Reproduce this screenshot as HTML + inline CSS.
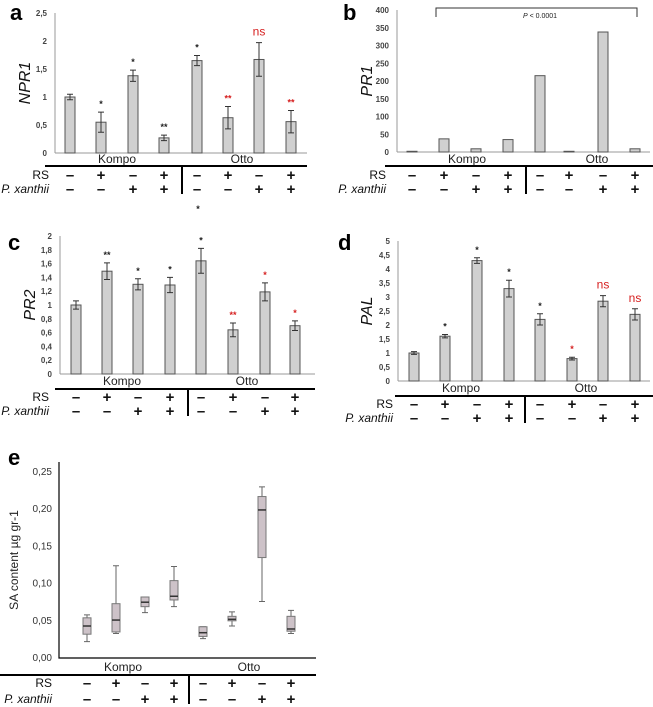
<!DOCTYPE html>
<html><head><meta charset="utf-8"><style>
body{margin:0;background:#fff;}
svg{display:block;font-family:"Liberation Sans",sans-serif;}
.tk{font-size:8px;fill:#444;font-weight:bold;}
.grp{font-size:12px;fill:#222;}
.sym{font-size:15px;fill:#111;font-weight:bold;}
.rl{font-size:12px;fill:#111;}
.pl{font-size:22px;font-weight:bold;fill:#000;}
.yt{font-size:16px;font-style:italic;fill:#111;}
</style></head><body>
<svg id="fig" width="653" height="707" viewBox="0 0 653 707"></svg>
<script>
// Panel a: NPR1
const aCats=["1","2","3","4","5","6","7","8"];
const aVals=[1,0.55,1.38,0.27,1.65,0.63,1.67,0.56];
const aErr=[0.05,0.18,0.1,0.05,0.09,0.2,0.3,0.2];
const aSig=["","*","*","**","*","**","ns","**"];
const aSigRed=[0,0,0,0,0,1,1,1];
const aTicks=["0","0,5","1","1,5","2","2,5"];
// Panel b: PR1
const bVals=[2,37,9,35,215,2,338,9];
const bTicks=["0","50","100","150","200","250","300","350","400"];
// Panel c: PR2
const cVals=[1,1.49,1.3,1.29,1.64,0.64,1.19,0.7];
const cErr=[0.06,0.12,0.08,0.11,0.18,0.1,0.13,0.07];
const cSig=["","**","*","*","*","**","*","*"];
const cSigRed=[0,0,0,0,0,1,1,1];
const cTicks=["0","0,2","0,4","0,6","0,8","1","1,2","1,4","1,6","1,8","2"];
// Panel d: PAL
const dVals=[1,1.6,4.3,3.3,2.2,0.8,2.85,2.38];
const dErr=[0.05,0.06,0.1,0.3,0.2,0.05,0.2,0.2];
const dSig=["","*","*","*","*","*","ns","ns"];
const dSigRed=[0,0,0,0,0,1,1,1];
const dTicks=["0","0,5","1","1,5","2","2,5","3","3,5","4","4,5","5"];
// Panel e: SA boxplots
const eMin=[0.022,0.033,0.061,0.069,0.026,0.043,0.076,0.033];
const eQ1=[0.032,0.035,0.069,0.078,0.029,0.050,0.135,0.036];
const eMed=[0.043,0.051,0.075,0.083,0.034,0.052,0.199,0.039];
const eQ3=[0.054,0.073,0.082,0.104,0.042,0.056,0.217,0.056];
const eMax=[0.058,0.124,0.082,0.123,0.042,0.062,0.230,0.064];
const eTicks=["0,00","0,05","0,10","0,15","0,20","0,25"];
const rsRow=["-","+","-","+","-","+","-","+"];
const pxRow=["-","-","+","+","-","-","+","+"];

const svg=document.getElementById('fig');
const NS="http://www.w3.org/2000/svg";
function mk(tag,attrs,parent,txt){const e=document.createElementNS(NS,tag);for(const k in attrs)e.setAttribute(k,attrs[k]);if(txt!==undefined)e.textContent=txt;(parent||svg).appendChild(e);return e;}

function treat(g,xs,lineY,lineX0,lineX1,rsY,pxY,labX,sepX,grpY,grpX){
  const t1=mk('text',{x:grpX[0],y:grpY,'text-anchor':'middle',class:'grp'},g,'Kompo');
  
  const t2=mk('text',{x:grpX[1],y:grpY,'text-anchor':'middle',class:'grp'},g,'Otto');
  
  const l=mk('line',{x1:lineX0,x2:lineX1,y1:lineY,y2:lineY,stroke:'#000','stroke-width':2},g);
  
  const s=mk('line',{x1:sepX,x2:sepX,y1:lineY,y2:pxY+5,stroke:'#000','stroke-width':2},g);
  
  const r=mk('text',{x:labX,y:rsY+4,'text-anchor':'end',class:'rl'},g,'RS');
  
  const p=mk('text',{x:labX,y:pxY+4,'text-anchor':'end',class:'rl','font-style':'italic'},g,'P. xanthii');
  
  xs.forEach((x,i)=>{
    const a=mk('text',{x:x,y:rsY+5,'text-anchor':'middle',class:'sym'},g,rsRow[i]==='-'?'–':'+');
    
    const b=mk('text',{x:x,y:pxY+5,'text-anchor':'middle',class:'sym'},g,pxRow[i]==='-'?'–':'+');
    
  });
}

function barPanel(o){
  const g=mk('g',{});
  
  const yScale=v=>o.y0-(v/o.max)*(o.y0-o.yTop);
  const pl=mk('text',{x:o.lx,y:o.ly,class:'pl'},g,o.letter);
  
  const ax=mk('line',{x1:o.ax,x2:o.ax,y1:o.yTop,y2:o.y0,stroke:'#999'},g);
  
  const xa=mk('line',{x1:o.ax,x2:o.axEnd,y1:o.y0,y2:o.y0,stroke:'#999'},g);
  
  o.ticks.forEach((t,i)=>{
    const v=i*o.max/(o.ticks.length-1);
    const tt=mk('text',{x:o.ax-8,y:yScale(v)+3,'text-anchor':'end',class:'tk'},g,t);
    
  });
  const yt=mk('text',{x:0,y:0,transform:`translate(${o.ytx},${(o.y0+o.yTop)/2}) rotate(-90)`,'text-anchor':'middle',class:'yt'},g,o.title);
  
  o.vals.forEach((v,i)=>{
    const x=o.xs[i],y=yScale(v);
    const b=mk('rect',{x:x-5,y:y,width:10,height:o.y0-y,fill:'#d0d0d0',stroke:'#555','stroke-width':1},g);
    
    let top=y;
    if(o.err){
      const e=o.err[i],y1=yScale(v+e),y2=yScale(v-e);top=y1;
      const el=mk('path',{d:`M${x},${y1}V${y2}M${x-3},${y1}H${x+3}M${x-3},${y2}H${x+3}`,stroke:'#333',fill:'none'},g);
      
    }
    if(o.sig&&o.sig[i]){
      const ns=o.sig[i]==='ns';
      const s=mk('text',{x:x,y:top-(ns?7:5),'text-anchor':'middle','font-size':ns?12:9,fill:o.red[i]?'#d62020':'#222','font-weight':ns?'normal':'bold'},g,o.sig[i]);
      
    }
  });
  treat(g,o.xs,o.lineY,o.lineX0,o.lineX1,o.rsY,o.pxY,o.labX,o.sepX,o.grpY,o.grpX);
  return g;
}

barPanel({name:'panel-a-npr1',letter:'a',lx:10,ly:20,ax:55,axEnd:307,yTop:13,y0:153,max:2.5,ticks:aTicks,title:'NPR1',ytx:30,
  vals:aVals,err:aErr,sig:aSig,red:aSigRed,xs:[70,101,133,164,197,228,259,291],
  lineY:166,lineX0:45,lineX1:307,rsY:175,pxY:189,labX:49,sepX:182,grpY:163,grpX:[117,242]});
const gb=barPanel({name:'panel-b-pr1',letter:'b',lx:343,ly:20,ax:397,axEnd:650,yTop:10,y0:152,max:400,ticks:bTicks,title:'PR1',ytx:372,
  vals:bVals,xs:[412,444,476,508,540,569,603,635],
  lineY:166,lineX0:385,lineX1:653,rsY:175,pxY:189,labX:386,sepX:526,grpY:163,grpX:[467,597]});
const br=mk('path',{d:'M436,17V8H637V17',stroke:'#333',fill:'none'},gb);

const bp=mk('text',{x:540,y:18,'text-anchor':'middle','font-size':7,fill:'#222'},gb);

mk('tspan',{'font-style':'italic'},bp,'P');mk('tspan',{},bp,' < 0.0001');
const lone=mk('text',{x:198,y:212,'text-anchor':'middle','font-size':9,'font-weight':'bold',fill:'#222'},svg,'*');

barPanel({name:'panel-c-pr2',letter:'c',lx:8,ly:250,ax:60,axEnd:315,yTop:236,y0:374,max:2,ticks:cTicks,title:'PR2',ytx:35,
  vals:cVals,err:cErr,sig:cSig,red:cSigRed,xs:[76,107,138,170,201,233,265,295],
  lineY:389,lineX0:55,lineX1:315,rsY:397,pxY:411,labX:49,sepX:188,grpY:385,grpX:[122,247]});
barPanel({name:'panel-d-pal',letter:'d',lx:338,ly:250,ax:398,axEnd:650,yTop:241,y0:381,max:5,ticks:dTicks,title:'PAL',ytx:372,
  vals:dVals,err:dErr,sig:dSig,red:dSigRed,xs:[414,445,477,509,540,572,603,635],
  lineY:396,lineX0:395,lineX1:653,rsY:404,pxY:418,labX:393,sepX:525,grpY:392,grpX:[461,586]});

// Panel e
(function(){
  const g=mk('g',{});
  
  const y0=658,yTop=472,max=0.25;
  const yS=v=>y0-(v/max)*(y0-yTop);
  const xs=[87,116,145,174,203,232,262,291];
  const pl=mk('text',{x:8,y:465,class:'pl'},g,'e');
  
  const ax=mk('path',{d:`M59,462V${y0}H316`,stroke:'#000',fill:'none','stroke-width':1.2},g);
  
  eTicks.forEach((t,i)=>{
    const tt=mk('text',{x:52,y:yS(i*0.05)+3,'text-anchor':'end','font-size':10,fill:'#333'},g,t);
    
  });
  const yt=mk('text',{transform:`translate(18,560) rotate(-90)`,'text-anchor':'middle','font-size':12,fill:'#222'},g,'SA content µg gr-1');
  
  xs.forEach((x,i)=>{
    const w=mk('path',{d:`M${x},${yS(eMax[i])}V${yS(eQ3[i])}M${x},${yS(eQ1[i])}V${yS(eMin[i])}M${x-3},${yS(eMax[i])}H${x+3}M${x-3},${yS(eMin[i])}H${x+3}`,stroke:'#666',fill:'none'},g);
    
    const b=mk('rect',{x:x-4,y:yS(eQ3[i]),width:8,height:Math.max(1,yS(eQ1[i])-yS(eQ3[i])),fill:'#cdc2c8',stroke:'#777'},g);
    
    const m=mk('line',{x1:x-4,x2:x+4,y1:yS(eMed[i]),y2:yS(eMed[i]),stroke:'#333','stroke-width':1.5},g);
    
  });
  treat(g,xs,675,0,316,683,699,52,189,671,[123,249]);
})();
</script>
</body></html>
